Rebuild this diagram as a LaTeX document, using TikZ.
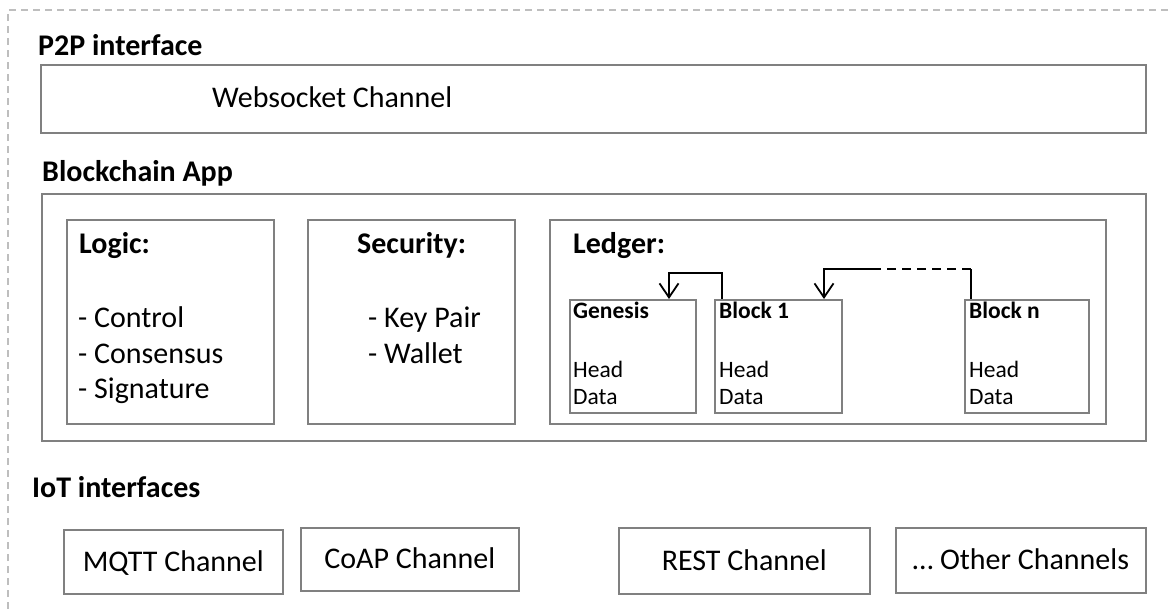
\documentclass[tikz,border=0pt]{standalone}
\usepackage{fontspec}
\setmainfont{Carlito}
\usetikzlibrary{arrows.meta}
\definecolor{boxgray}{RGB}{128,128,128}
\definecolor{outlinegray}{RGB}{190,190,190}
\newcommand\mainsize{\fontsize{30}{36}\selectfont}
\newcommand\blocksize{\fontsize{23.5}{28}\selectfont}
\tikzset{
  box/.style={draw=boxgray, line width=1.6pt, rectangle, anchor=north west, inner sep=0pt},
  channel/.style={box, font=\mainsize, text height=19pt, text depth=0pt},
  title/.style={anchor=base west, inner sep=0pt, font=\mainsize\bfseries},
  item/.style={anchor=base west, inner sep=0pt, font=\mainsize},
  blocktitle/.style={anchor=base west, inner sep=0pt, font=\blocksize\bfseries},
  blockitem/.style={anchor=base west, inner sep=0pt, font=\blocksize},
  link/.style={line width=1.8pt},
  pointer/.style={link, -{Straight Barb[length=14pt,width=19pt,line width=1.8pt]}}
}
\begin{document}
\begin{tikzpicture}[x=1pt,y=-1pt]
  \useasboundingbox (0,0) rectangle (1168,609);
  \draw[outlinegray, line width=1.2pt, dash pattern=on 7pt off 5pt]
    (8,609) -- (8,10) -- (1168,10);

  % P2P interface
  \node[title] (p2p) at (38,56) {P2P interface};
  \node[box, minimum width=1105pt, minimum height=68pt] (ws) at (40,64) {};
  \node[item] (wslabel) at (212,108) {Websocket Channel};

  % Blockchain App
  \node[title] (app) at (42,182) {Blockchain App};
  \node[box, minimum width=1104pt, minimum height=247pt] (appbox) at (41,193) {};

  \node[box, minimum width=207pt, minimum height=204pt] (logic) at (66,219) {};
  \node[title] (logictitle) at (79,254) {Logic:};
  \node[item] (control) at (78,328) {- Control};
  \node[item] (consensus) at (78,363.5) {- Consensus};
  \node[item] (signature) at (78,399) {- Signature};

  \node[box, minimum width=207pt, minimum height=204pt] (security) at (307,219) {};
  \node[title] (securitytitle) at (357,254) {Security:};
  \node[item] (keypair) at (368,328) {- Key Pair};
  \node[item] (wallet) at (368,363.5) {- Wallet};

  \node[box, minimum width=556pt, minimum height=204pt] (ledger) at (549,219) {};
  \node[title] (ledgertitle) at (573,254) {Ledger:};

  % blocks of the chain
  \node[box, minimum width=126pt, minimum height=113pt] (genesis) at (569,299) {};
  \node[box, minimum width=127pt, minimum height=113pt] (block1) at (714,299) {};
  \node[box, minimum width=124pt, minimum height=113pt] (blockn) at (964,299) {};
  \node[blocktitle] (genesistitle) at (573,319) {Genesis};
  \node[blocktitle] (block1title) at (719,319) {Block 1};
  \node[blocktitle] (blockntitle) at (969,319) {Block n};
  \node[blockitem] (genesishead) at (573,378) {Head};
  \node[blockitem] (genesisdata) at (573,405) {Data};
  \node[blockitem] (block1head) at (719,378) {Head};
  \node[blockitem] (block1data) at (719,405) {Data};
  \node[blockitem] (blocknhead) at (969,378) {Head};
  \node[blockitem] (blockndata) at (969,405) {Data};

  \begin{scope}
    \draw[pointer] ([xshift=8pt]block1.north west) -- ++(0,-26)
      -| ([xshift=100pt]genesis.north west);
    \draw[link] ([xshift=7pt]blockn.north west) -- ++(0,-30) coordinate (blocknup);
    \draw[link, dash pattern=on 9pt off 6pt] (blocknup) -- (878,269) coordinate (gapend);
    \draw[pointer] (gapend) -| ([xshift=110pt]block1.north west);
  \end{scope}

  % IoT interfaces
  \node[title] (iot) at (32,497) {IoT interfaces};
  \node[channel, minimum width=219pt, minimum height=64pt] (mqtt) at (63,529) {MQTT Channel};
  \node[channel, minimum width=218pt, minimum height=63pt] (coap) at (300,527) {CoAP Channel};
  \node[channel, minimum width=251pt, minimum height=66pt] (rest) at (618,527) {REST Channel};
  \node[channel, minimum width=250pt, minimum height=65pt] (other) at (895,527) {\dots{} Other Channels};
\end{tikzpicture}
\end{document}
